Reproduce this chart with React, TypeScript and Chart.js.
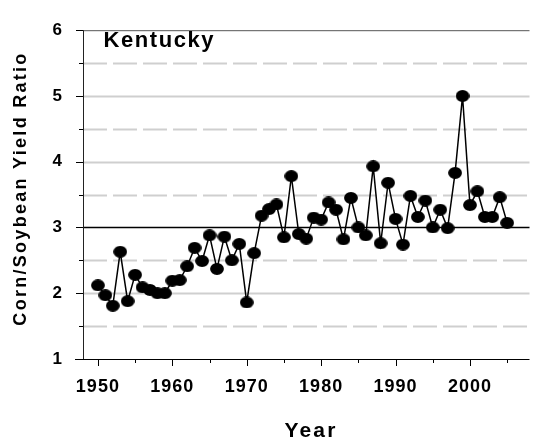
import { useEffect, useRef } from "react";
import { Chart, registerables } from "chart.js";

Chart.register(...registerables);

const years = [
  1950, 1951, 1952, 1953, 1954, 1955, 1956, 1957, 1958, 1959,
  1960, 1961, 1962, 1963, 1964, 1965, 1966, 1967, 1968, 1969,
  1970, 1971, 1972, 1973, 1974, 1975, 1976, 1977, 1978, 1979,
  1980, 1981, 1982, 1983, 1984, 1985, 1986, 1987, 1988, 1989,
  1990, 1991, 1992, 1993, 1994, 1995, 1996, 1997, 1998, 1999,
  2000, 2001, 2002, 2003, 2004, 2005,
];

const ratios = [
  2.12, 1.97, 1.81, 2.63, 1.88, 2.28, 2.09, 2.05, 2.0, 2.0,
  2.19, 2.2, 2.41, 2.69, 2.49, 2.88, 2.37, 2.86, 2.5, 2.75,
  1.86, 2.61, 3.18, 3.28, 3.35, 2.85, 3.78, 2.9, 2.83, 3.15,
  3.12, 3.38, 3.27, 2.82, 3.45, 3.0, 2.88, 3.93, 2.76, 3.68,
  3.13, 2.74, 3.48, 3.16, 3.41, 3.0, 3.27, 2.99, 3.83, 5.0,
  3.34, 3.55, 3.16, 3.16, 3.46, 3.07,
];

const xTickValues = [
  1950, 1955, 1960, 1965, 1970, 1975, 1980, 1985, 1990, 1995, 2000, 2005,
];
const xTickLabels = ["1950", "1960", "1970", "1980", "1990", "2000"];
const yTickValues = [1, 1.5, 2, 2.5, 3, 3.5, 4, 4.5, 5, 5.5, 6];
const yTickLabels = ["1", "2", "3", "4", "5", "6"];
const stateLabel = "Kentucky";
const xTitle = "Year";
const yTitle = "Corn/Soybean Yield Ratio";

const FONT = '"Liberation Sans", Arial, sans-serif';

function makeMarker(): HTMLCanvasElement {
  const c = document.createElement("canvas");
  c.width = 14;
  c.height = 12;
  const g = c.getContext("2d")!;
  g.fillStyle = "#000";
  g.beginPath();
  g.ellipse(7, 6, 6.9, 5.9, 0, 0, Math.PI * 2);
  g.fill();
  return c;
}

function setSpacing(
  ctx: CanvasRenderingContext2D,
  text: string,
  targetWidth: number
) {
  (ctx as any).letterSpacing = "0px";
  const w0 = ctx.measureText(text).width;
  const sp = Math.max(0, (targetWidth - w0) / Math.max(1, text.length - 1));
  (ctx as any).letterSpacing = sp + "px";
}

const decorPlugin = {
  id: "decor",
  beforeDraw(chart: any) {
    (chart.ctx as any).letterSpacing = "1px";
  },
  beforeDatasetsDraw(chart: any) {
    const { ctx, chartArea } = chart;
    const xs = chart.scales.x;
    const ys = chart.scales.y;
    const { left, right, top, bottom } = chartArea;
    ctx.save();
    (ctx as any).letterSpacing = "0px";
    // horizontal grid lines
    ys.ticks.forEach((t: any) => {
      const v = t.value;
      if (v <= 1 || v >= 6) return;
      const py = Math.round(ys.getPixelForValue(v)) + 0.5;
      ctx.beginPath();
      if (v === 3) {
        ctx.setLineDash([]);
        ctx.strokeStyle = "#000";
        ctx.lineWidth = 1.4;
      } else if (Number.isInteger(v)) {
        ctx.setLineDash([]);
        ctx.strokeStyle = "#cfcfcf";
        ctx.lineWidth = 2;
      } else {
        ctx.setLineDash([24, 6]);
        ctx.strokeStyle = "#cfcfcf";
        ctx.lineWidth = 2;
      }
      ctx.moveTo(left, py);
      ctx.lineTo(right, py);
      ctx.stroke();
    });
    ctx.setLineDash([]);
    // frame
    ctx.lineWidth = 1;
    ctx.strokeStyle = "#555";
    ctx.beginPath();
    ctx.moveTo(left, top + 0.5);
    ctx.lineTo(right, top + 0.5);
    ctx.stroke();
    ctx.strokeStyle = "#222";
    ctx.beginPath();
    ctx.moveTo(left + 0.5, top);
    ctx.lineTo(left + 0.5, bottom);
    ctx.stroke();
    ctx.strokeStyle = "#000";
    ctx.beginPath();
    ctx.moveTo(left - 8, bottom + 0.5);
    ctx.lineTo(right, bottom + 0.5);
    ctx.stroke();
    // y tick marks
    ys.ticks.forEach((t: any) => {
      const v = t.value;
      const py = Math.round(ys.getPixelForValue(v)) + 0.5;
      const len = Number.isInteger(v) ? 7 : 4;
      ctx.beginPath();
      ctx.moveTo(left, py);
      ctx.lineTo(left - len, py);
      ctx.stroke();
    });
    // x tick marks
    xs.ticks.forEach((t: any) => {
      const v = t.value;
      const px = Math.round(xs.getPixelForValue(v)) + 0.5;
      const len = v % 10 === 0 ? 7 : 4;
      ctx.beginPath();
      ctx.moveTo(px, bottom);
      ctx.lineTo(px, bottom + len);
      ctx.stroke();
    });
    ctx.restore();
  },
  afterDraw(chart: any) {
    const { ctx, chartArea } = chart;
    ctx.save();
    ctx.fillStyle = "#000";
    // state label
    ctx.font = `bold 22px ${FONT}`;
    ctx.textAlign = "left";
    ctx.textBaseline = "alphabetic";
    setSpacing(ctx, stateLabel, 110);
    ctx.fillText(stateLabel, chartArea.left + 20.5, 47.3);
    // x title
    ctx.font = `bold 21px ${FONT}`;
    ctx.textAlign = "center";
    setSpacing(ctx, xTitle, 51);
    ctx.fillText(xTitle, 311, 437);
    // y title
    ctx.font = `bold 18px ${FONT}`;
    setSpacing(ctx, yTitle, 272);
    ctx.translate(26, 188.5);
    ctx.rotate(-Math.PI / 2);
    ctx.fillText(yTitle, 0, 0);
    ctx.restore();
  },
};

export default function App() {
  const ref = useRef<HTMLCanvasElement | null>(null);
  useEffect(() => {
    if (!ref.current) return;
    const marker = makeMarker();
    const chart = new Chart(ref.current, {
      type: "line",
      data: {
        datasets: [
          {
            data: years.map((x, i) => ({ x, y: ratios[i] })),
            borderColor: "#000",
            borderWidth: 1.5,
            pointStyle: marker as any,
            pointRadius: 6,
            pointHoverRadius: 6,
            tension: 0,
            fill: false,
          },
        ],
      },
      options: {
        responsive: false,
        animation: false,
        devicePixelRatio: 1,
        layout: { padding: { top: 17, left: 0, right: 0, bottom: 0 } },
        plugins: {
          legend: { display: false },
          tooltip: { enabled: false },
          title: { display: false },
        },
        scales: {
          x: {
            type: "linear",
            min: 1948,
            max: 2008,
            afterBuildTicks: (s: any) => {
              s.ticks = xTickValues.map((v) => ({ value: v }));
            },
            afterFit: (s: any) => {
              s.height = 80;
            },
            ticks: {
              autoSkip: false,
              maxRotation: 0,
              padding: 17,
              color: "#000",
              font: { family: FONT, size: 18, weight: "bold" },
              callback: (v: any) =>
                xTickLabels.includes(String(v)) ? String(v) : "",
            },
            grid: { display: false, drawTicks: false },
            border: { display: false },
          },
          y: {
            min: 1,
            max: 6,
            afterBuildTicks: (s: any) => {
              s.ticks = yTickValues.map((v) => ({ value: v }));
            },
            afterFit: (s: any) => {
              s.width = 83;
            },
            ticks: {
              autoSkip: false,
              padding: 20,
              color: "#000",
              font: { family: FONT, size: 17, weight: "bold" },
              callback: (v: any) =>
                yTickLabels.includes(String(v)) ? String(v) : "",
            },
            grid: { display: false, drawTicks: false },
            border: { display: false },
          },
        },
      },
      plugins: [decorPlugin],
    });
    return () => chart.destroy();
  }, []);
  return (
    <div
      style={{
        position: "fixed",
        left: 0,
        top: 0,
        width: 533,
        height: 439,
        overflow: "hidden",
        background: "#fff",
      }}
    >
      <canvas ref={ref} width={537} height={439} style={{ display: "block" }} />
    </div>
  );
}
